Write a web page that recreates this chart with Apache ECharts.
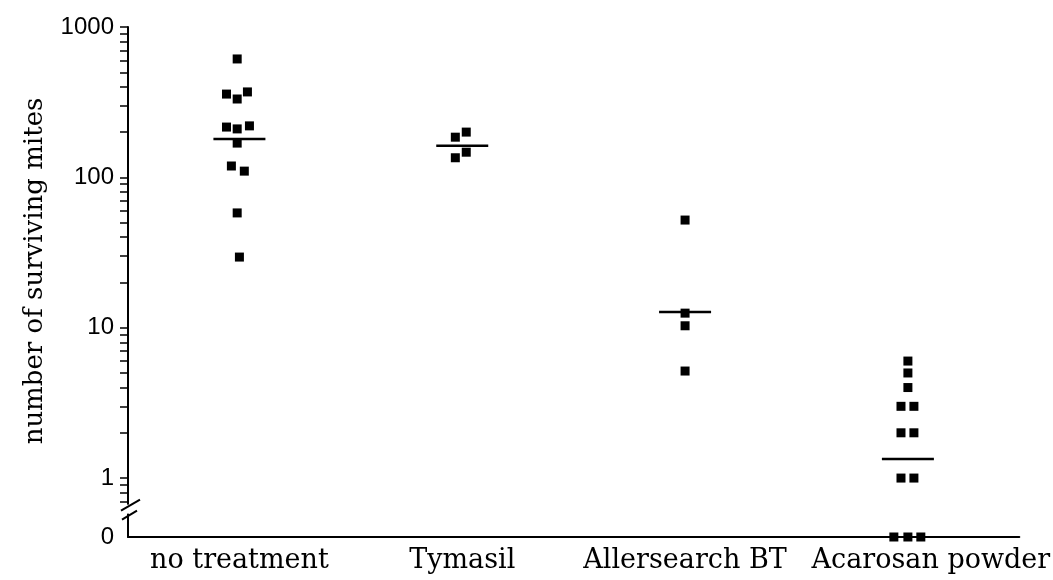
<!DOCTYPE html>
<html lang="en">
<head>
    <meta charset="UTF-8">
    <script src="https://cdn.jsdelivr.net/npm/echarts@6/dist/echarts.min.js"></script>
    <style>
        html, body { margin: 0; padding: 0; background: #fff; }
    </style>
</head>
<body>
<div id="chart" style="width: 1053px;height: 580px"></div>
<script>
    // categories on the x axis
    var categories = ['no treatment', 'Tymasil', 'Allersearch BT', 'Acarosan powder'];

    // surviving mites per sample
    var noTreatment = [613, 370, 358, 332, 220, 216, 210, 169, 119, 110, 58, 29.5];
    var tymasil = [200, 185, 147, 135];
    var allersearch = [52, 12.5, 10.3, 5.15];
    var acarosan = [6, 5, 4, 3, 3, 2, 2, 1, 1, 0, 0, 0];

    // horizontal spread of the dots inside a column (fraction of a category)
    var noTreatmentX = [-0.01, 0.036, -0.058, -0.01, 0.045, -0.058, -0.01, -0.01, -0.036, 0.022, -0.01, 0];
    var tymasilX = [0.018, -0.031, 0.018, -0.031];
    var allersearchX = [0, 0, 0, 0];
    var acarosanX = [0, 0, 0, -0.031, 0.027, -0.031, 0.027, -0.031, 0.027, -0.063, 0, 0.058];

    // the horizontal bar drawn in each column
    var centreLines = [180, 162, 12.7, 1.34];

    // y tick labels
    var yTickLabels = [0, 1, 10, 100, 1000];

    // zero counts sit below the axis break
    var ZERO_POS = -0.392;

    function toAxis(v) {
        return v <= 0 ? ZERO_POS : Math.log10(v);
    }

    var groups = [noTreatment, tymasil, allersearch, acarosan];
    var groupsX = [noTreatmentX, tymasilX, allersearchX, acarosanX];

    var points = [];
    for (var g = 0; g < groups.length; g++) {
        for (var k = 0; k < groups[g].length; k++) {
            points.push([g + groupsX[g][k], toAxis(groups[g][k])]);
        }
    }
    var lines = centreLines.map(function (v, i) {
        return [i, toAxis(v)];
    });

    // minor ticks 2..9 in every decade, plus a few below 1
    var tickValues = [toAxis(0.7), toAxis(0.8), toAxis(0.9)];
    for (var d = 0; d < 3; d++) {
        for (var m = 1; m <= 9; m++) {
            tickValues.push(toAxis(m * Math.pow(10, d)));
        }
    }
    tickValues.push(3);

    var labelValues = yTickLabels.map(toAxis);

    // last label sits a bit to the right in the original
    var catData = categories.map(function (c, i) {
        if (i === categories.length - 1) {
            return {value: c, textStyle: {padding: [0, 0, 0, 46]}};
        }
        return c;
    });

    var chart = echarts.init(document.getElementById('chart'));
    var option = {
        animation: false,
        backgroundColor: '#fff',
        grid: {
            left: 128,
            right: 32,
            top: 27,
            bottom: 43
        },
        xAxis: [{
            type: 'category',
            data: catData,
            axisLine: {
                onZero: false,
                lineStyle: {color: '#000', width: 2}
            },
            axisTick: {
                alignWithLabel: true,
                length: 6,
                lineStyle: {color: '#000', width: 2}
            },
            axisLabel: {
                interval: 0,
                color: '#000',
                fontFamily: 'DejaVu Serif',
                fontSize: 27,
                margin: 10
            },
            splitLine: {show: false}
        }, {
            type: 'value',
            min: -0.5,
            max: 3.5,
            show: false
        }],
        yAxis: {
            type: 'value',
            min: ZERO_POS,
            max: 3,
            name: 'number of surviving mites',
            nameLocation: 'middle',
            nameGap: 80,
            nameTextStyle: {
                color: '#000',
                fontFamily: 'DejaVu Serif',
                fontSize: 26,
                padding: [0, 0, 0, 22]
            },
            axisLine: {
                show: true,
                onZero: false,
                lineStyle: {color: '#000', width: 2}
            },
            axisTick: {
                show: true,
                length: 8,
                customValues: tickValues,
                lineStyle: {color: '#000', width: 1.5}
            },
            axisLabel: {
                customValues: labelValues,
                color: '#000',
                fontFamily: 'Liberation Sans',
                fontSize: 24,
                margin: 14,
                formatter: function (v) {
                    if (v < -0.1) return '0';
                    return String(Math.round(Math.pow(10, v)));
                }
            },
            splitLine: {show: false}
        },
        series: [{
            type: 'scatter',
            xAxisIndex: 1,
            symbol: 'rect',
            symbolSize: 9,
            itemStyle: {color: '#000', opacity: 1},
            data: points
        }, {
            type: 'scatter',
            xAxisIndex: 1,
            symbol: 'rect',
            symbolSize: [52, 2.5],
            itemStyle: {color: '#000', opacity: 1},
            data: lines
        }]
    };
    chart.setOption(option);

    // the // break mark on the y axis, between 0 and 1
    var bx = chart.convertToPixel({gridIndex: 0}, [0, -0.21]);
    var ax = 128;
    var by = bx[1];
    chart.setOption({
        graphic: [{
            type: 'rect',
            shape: {x: ax - 3, y: by - 5, width: 6, height: 9},
            style: {fill: '#fff'},
            z: 100
        }, {
            type: 'line',
            shape: {x1: ax - 7, y1: by + 1, x2: ax + 12, y2: by - 10},
            style: {stroke: '#000', lineWidth: 2},
            z: 101
        }, {
            type: 'line',
            shape: {x1: ax - 6, y1: by + 10, x2: ax + 9, y2: by + 1},
            style: {stroke: '#000', lineWidth: 2},
            z: 101
        }]
    });
</script>
</body>
</html>
